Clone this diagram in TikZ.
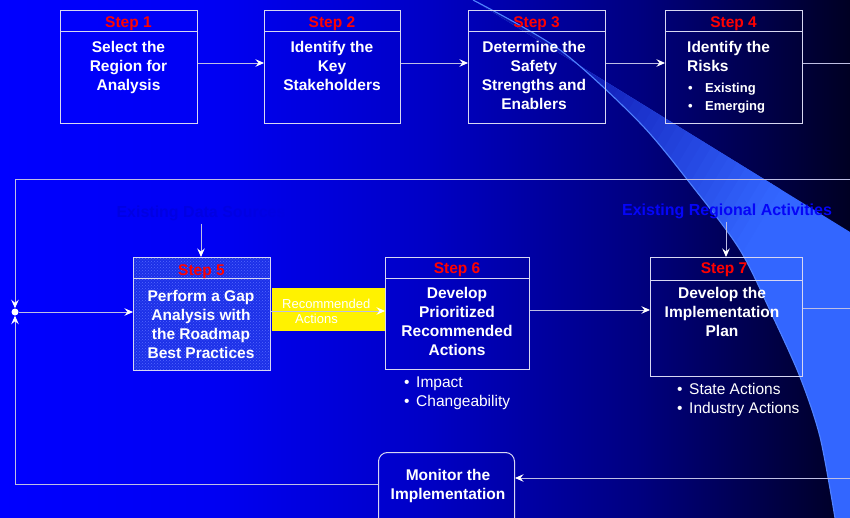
\documentclass[tikz,border=0pt]{standalone}
\usepackage{fontspec}
\setmainfont{Liberation Sans}
\usetikzlibrary{arrows.meta,patterns,calc}
\definecolor{lineC}{RGB}{190,190,228}
\definecolor{boxC}{RGB}{215,215,242}
\definecolor{stepred}{RGB}{255,0,0}
\definecolor{bg0}{RGB}{0,0,255}
\definecolor{bg1}{RGB}{0,0,243}
\definecolor{bg2}{RGB}{0,0,198}
\definecolor{bg3}{RGB}{0,0,128}
\definecolor{bg4}{RGB}{0,0,35}
\definecolor{sw0}{RGB}{12,18,172}
\definecolor{sw3}{RGB}{51,102,255}
\definecolor{swline}{RGB}{80,130,255}
\definecolor{s5fill}{RGB}{28,48,232}
\definecolor{s5dot}{RGB}{85,105,255}
\definecolor{srcC}{RGB}{0,0,226}
\definecolor{srcR}{RGB}{5,5,248}
\pgfdeclarehorizontalshading{bgshade}{100bp}{color(0bp)=(bg0); color(25bp)=(bg0); color(37.5bp)=(bg1); color(50bp)=(bg2); color(62.5bp)=(bg3); color(75bp)=(bg4); color(100bp)=(bg4)}
\tikzset{
  box/.style={draw=boxC, line width=1pt, inner sep=0pt},
  steplbl/.style={font=\fontsize{15.5}{19}\selectfont\bfseries, text=stepred, inner sep=0pt},
  body/.style={font=\fontsize{15.5}{19}\selectfont\bfseries, text=white, align=center, inner sep=0pt},
  listtxt/.style={font=\fontsize{15.5}{19}\selectfont, text=white, align=left, inner sep=0pt},
  smalllist/.style={font=\fontsize{13}{18}\selectfont\bfseries, text=white, align=left, inner sep=0pt},
  conn/.style={draw=lineC, line width=0.9pt},
  arr/.style={conn, -{Stealth[length=8.5pt,width=7.5pt,inset=3pt,color=white]}},
  srclbl/.style={font=\fontsize{16}{19}\selectfont\bfseries, inner sep=0pt},
}
\begin{document}
\begin{tikzpicture}[x=1pt,y=-1pt]
\useasboundingbox (0,0) rectangle (850,518);
% background
\shade[shading=bgshade] (0,0) rectangle (850,518);
% swoosh
\begin{scope}
\clip plot[smooth] coordinates {(473,0) (560,50) (640,123) (693,187) (740,250) (773,317) (800,377) (820,437) (835,518)}
  -- (850,518) -- (850,232) -- (473,0) -- cycle;
\fill[sw3] (460,-5) rectangle (855,525);
\foreach \k in {0,...,35}{
  \pgfmathsetmacro{\ua}{\k*10}
  \pgfmathsetmacro{\ub}{\k*10+10.8}
  \pgfmathsetmacro{\p}{min(100,max(0,(\ua-95)/2.6))}
  \fill[sw3!\p!sw0] ({473+\ua*0.857+515},{\ua*0.515-857}) -- ({473+\ua*0.857-515},{\ua*0.515+857})
     -- ({473+\ub*0.857-515},{\ub*0.515+857}) -- ({473+\ub*0.857+515},{\ub*0.515-857}) -- cycle;
}
\end{scope}
\draw[swline, line width=1.1pt] plot[smooth] coordinates {(473,0) (560,50) (640,123) (693,187) (740,250) (773,317) (800,377) (820,437) (835,518)};

% top row boxes
\node[box, minimum width=137pt, minimum height=113pt, anchor=north west] (s1) at (60,10) {};
\node[box, minimum width=136pt, minimum height=113pt, anchor=north west] (s2) at (264,10) {};
\node[box, minimum width=137pt, minimum height=113pt, anchor=north west] (s3) at (468,10) {};
\node[box, minimum width=137pt, minimum height=113pt, anchor=north west] (s4) at (665,10) {};
\foreach \b in {s1,s2,s3,s4}{\draw[boxC, line width=1pt] (\b.west |- 0,32) -- (\b.east |- 0,32);}

\node[steplbl, anchor=base] (h1) at (128.5,27.5) {Step 1};
\node[steplbl, anchor=base] (h2) at (332,27.5) {Step 2};
\node[steplbl, anchor=base] (h3) at (536.5,27.5) {Step 3};
\node[steplbl, anchor=base] (h4) at (733.5,27.5) {Step 4};

\node[body, anchor=north] (t1) at (128.5,41) {Select the\\Region for\\Analysis};
\node[body, anchor=north] (t2) at (332,41) {Identify the\\Key\\Stakeholders};
\node[body, anchor=north] (t3) at (534,41) {Determine the\\Safety\\Strengths and\\Enablers};
\node[body, align=left, anchor=north west] (t4) at (687,41) {Identify the\\Risks};
\node[smalllist, anchor=north west] (l4) at (688,83.3) {•\hspace{12.4pt}Existing\\•\hspace{12.4pt}Emerging};

\draw[arr] (s1.east |- 0,63) -- (s2.west |- 0,63);
\draw[arr] (s2.east |- 0,63) -- (s3.west |- 0,63);
\draw[arr] (s3.east |- 0,63) -- (s4.west |- 0,63);
\coordinate (e4) at (850,63);
\draw[conn] (s4.east |- e4) -- (e4);

% source labels
\node[srclbl, text=srcC] (eds) at (201,213) {Existing Data Sources};
\node[srclbl, text=srcR] (era) at (727,211) {Existing Regional Activities};

% second row boxes
\node[box, minimum width=137pt, minimum height=113pt, anchor=north west, preaction={fill=s5fill}, pattern=crosshatch dots, pattern color=s5dot] (s5) at (133,257) {};
\node[box, minimum width=144pt, minimum height=112pt, anchor=north west] (s6) at (385,257) {};
\node[box, minimum width=152pt, minimum height=119pt, anchor=north west] (s7) at (650,257) {};
\draw[boxC, line width=1pt] (s5.west |- 0,278) -- (s5.east |- 0,278);
\draw[boxC, line width=1pt] (s6.west |- 0,278) -- (s6.east |- 0,278);
\draw[boxC, line width=1pt] (s7.west |- 0,280) -- (s7.east |- 0,280);

\node[steplbl, anchor=base] (h5) at (201.5,275.5) {Step 5};
\node[steplbl, anchor=base] (h6) at (457,273.5) {Step 6};
\node[steplbl, anchor=base] (h7) at (724,273.5) {Step 7};

\node[body, anchor=north] (t5) at (201,290) {Perform a Gap\\Analysis with\\the Roadmap\\Best Practices};
\node[body, anchor=north] (t6) at (457,287) {Develop\\Prioritized\\Recommended\\Actions};
\node[body, anchor=north] (t7) at (722,287) {Develop the\\Implementation\\Plan};

\node[listtxt, anchor=north west] (l6) at (404,376.5) {•\hspace{6.6pt}Impact\\•\hspace{6.6pt}Changeability};
\node[listtxt, anchor=north west] (l7) at (677,383.5) {•\hspace{6.6pt}State Actions\\•\hspace{6.6pt}Industry Actions};

% recommended actions box
\node[fill=yellow, minimum width=113pt, minimum height=43pt, inner sep=0pt, anchor=north west] (rec) at (272,288) {};
\draw[arr] (s5.east |- 0,311) -- (s6.west |- 0,311);
\node[font=\fontsize{13}{15}\selectfont, text=white, align=left, inner sep=0pt, anchor=north west] (rect) at (282,298.5) {Recommended\\\hspace{13pt}Actions};

\draw[arr] (s6.east |- 0,310) -- (s7.west |- 0,310);
\coordinate (e7) at (850,308);
\draw[conn] (s7.east |- e7) -- (e7);

\draw[arr] (eds.south) ++(0,3) -- (eds.south |- s5.north);
\draw[arr] (era.south) ++(-1,3) -- ([xshift=-1pt]era.south |- s7.north);

% monitor box
\node[box, rounded corners=9pt, minimum width=136pt, minimum height=78pt, anchor=north west] (mon) at (378,452) {};
\node[body, anchor=north] (tm) at (448,469) {Monitor the\\Implementation};

% loop
\node[circle, fill=white, inner sep=0pt, minimum size=7pt] (dot) at (15,312) {};
\coordinate (etop) at (850,179);
\coordinate (ebot) at (850,478);
\draw[arr] (etop) -| (dot);
\draw[arr] (dot) -- (dot -| s5.west);
\draw[arr] (ebot) -- (mon.east |- ebot);
\draw[arr] (mon.west |- 0,484) -| (dot);
\end{tikzpicture}
\end{document}
